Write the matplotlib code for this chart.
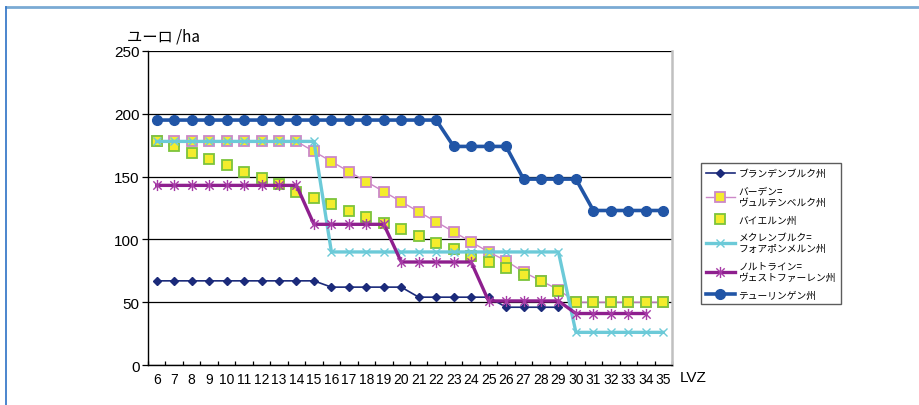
import matplotlib
matplotlib.use("Agg")
import matplotlib.pyplot as plt
from matplotlib.path import Path
from matplotlib.lines import Line2D
from matplotlib.ticker import MultipleLocator, FixedLocator

plt.rcParams['font.family'] = ['Noto Sans CJK JP', 'DejaVu Sans']

# Landwirtschaftliche Vergleichszahl (LVZ) classes
lvz = list(range(6, 36))

brandenburg = [67]*10 + [62]*5 + [54]*5 + [46]*4
baden = [178]*9 + [170, 162, 154, 146, 138, 130, 122, 114, 106, 98, 90, 83, 74, 67, 60] + [50]*6
bayern = [178, 174, 169, 164, 159, 154, 149, 144, 138, 133, 128, 123, 118, 113, 108,
          103, 97, 92, 87, 82, 77, 72, 67, 59, 50, 50, 50, 50, 50, 50]
mecklenburg = [178]*10 + [90]*14 + [26]*6
nordrhein = [143]*9 + [112]*5 + [82]*5 + [51]*5 + [41]*5
thueringen = [195]*17 + [174]*4 + [148]*4 + [123]*5

labels = [
    "ブランデンブルク州",
    "バーデン=\nヴュルテンベルク州",
    "バイエルン州",
    "メクレンブルク=\nフォアポンメルン州",
    "ノルトライン=\nヴェストファーレン州",
    "テューリンゲン州",
]
yticks = [0, 50, 100, 150, 200, 250]

# Excel-style star marker: x with a vertical bar
star = Path([(0, -1), (0, 1), (-0.75, -0.75), (0.75, 0.75), (-0.75, 0.75), (0.75, -0.75)],
            [Path.MOVETO, Path.LINETO, Path.MOVETO, Path.LINETO, Path.MOVETO, Path.LINETO])

fig = plt.figure(figsize=(9.2, 4.06), dpi=100)
ax = fig.add_axes([0.1609, 0.0985, 0.5695, 0.7735])

def xs(vals):
    return lvz[:len(vals)]

h1, = ax.plot(xs(brandenburg), brandenburg, color='#1b2a7a', lw=1.2, marker='D', ms=4,
              mfc='#1b2a7a', mec='#1b2a7a', zorder=3)
h2, = ax.plot(xs(baden), baden, color='#cc88c8', lw=1.0, marker='s', ms=7.5,
              mfc='#f4ec2c', mec='#cc88c8', mew=1.3, zorder=4)
h3, = ax.plot(xs(bayern), bayern, ls='none', marker='s', ms=7,
              mfc='#f4ec2c', mec='#7cc43c', mew=1.3, zorder=5)
h4, = ax.plot(xs(mecklenburg), mecklenburg, color='#6ccad8', lw=2.4, marker='x', ms=6,
              mec='#6ccad8', mew=1.0, zorder=6)
h5, = ax.plot(xs(nordrhein), nordrhein, color='#8e1f8e', lw=2.4, marker=star, ms=8,
              mfc='none', mec='#a63aa6', mew=1.0, zorder=7)
h6, = ax.plot(xs(thueringen), thueringen, color='#2155a6', lw=2.6, marker='o', ms=7,
              mfc='#2155a6', mec='#2155a6', zorder=8)

ax.set_xlim(5.5, 35.5)
ax.set_ylim(0, 250)
ax.set_yticks(yticks)
ax.set_yticklabels([str(v) for v in yticks], family=['Liberation Sans', 'DejaVu Sans'], fontsize=11)
ax.yaxis.grid(True, color='black', lw=0.9)
ax.set_axisbelow(True)
ax.tick_params(axis='y', length=4, width=0.9, color='black', pad=2)

ax.xaxis.set_major_locator(FixedLocator(lvz))
ax.set_xticklabels([str(v) for v in lvz], family=['Liberation Sans', 'DejaVu Sans'], fontsize=10)
ax.xaxis.set_minor_locator(MultipleLocator(1, offset=0.5))
ax.tick_params(axis='x', which='major', length=0, pad=5)
ax.tick_params(axis='x', which='minor', length=3, direction='in', width=0.9, color='black')

for side in ('left', 'bottom'):
    ax.spines[side].set_color('black')
    ax.spines[side].set_linewidth(1.0)
ax.spines['top'].set_visible(False)
ax.spines['right'].set_color('#c0c0c0')
ax.spines['right'].set_linewidth(1.8)

fig.text(0.138, 0.908, "ユーロ /ha", fontsize=11, ha='left', va='center')
fig.text(0.739, 0.069, "LVZ", fontsize=11, ha='left', va='center',
         family=['Liberation Sans', 'DejaVu Sans'])

leg = fig.legend([h1, h2, h3, h4, h5, h6], labels,
                 loc='upper left', bbox_to_anchor=(0.762, 0.595),
                 fontsize=7, handlelength=3.0, handletextpad=0.35,
                 labelspacing=0.75, borderpad=0.5, borderaxespad=0.0,
                 frameon=True, fancybox=False)
leg.get_frame().set_edgecolor('#333333')
leg.get_frame().set_linewidth(1.0)

# page frame lines
fig.add_artist(Line2D([0.006, 1.0], [0.981, 0.981], color='#7aaad4', lw=2.0,
                      transform=fig.transFigure))
fig.add_artist(Line2D([0.0065, 0.0065], [0.0, 0.981], color='#3d7cc9', lw=1.3,
                      transform=fig.transFigure))

fig.savefig("out.png", dpi=100)
